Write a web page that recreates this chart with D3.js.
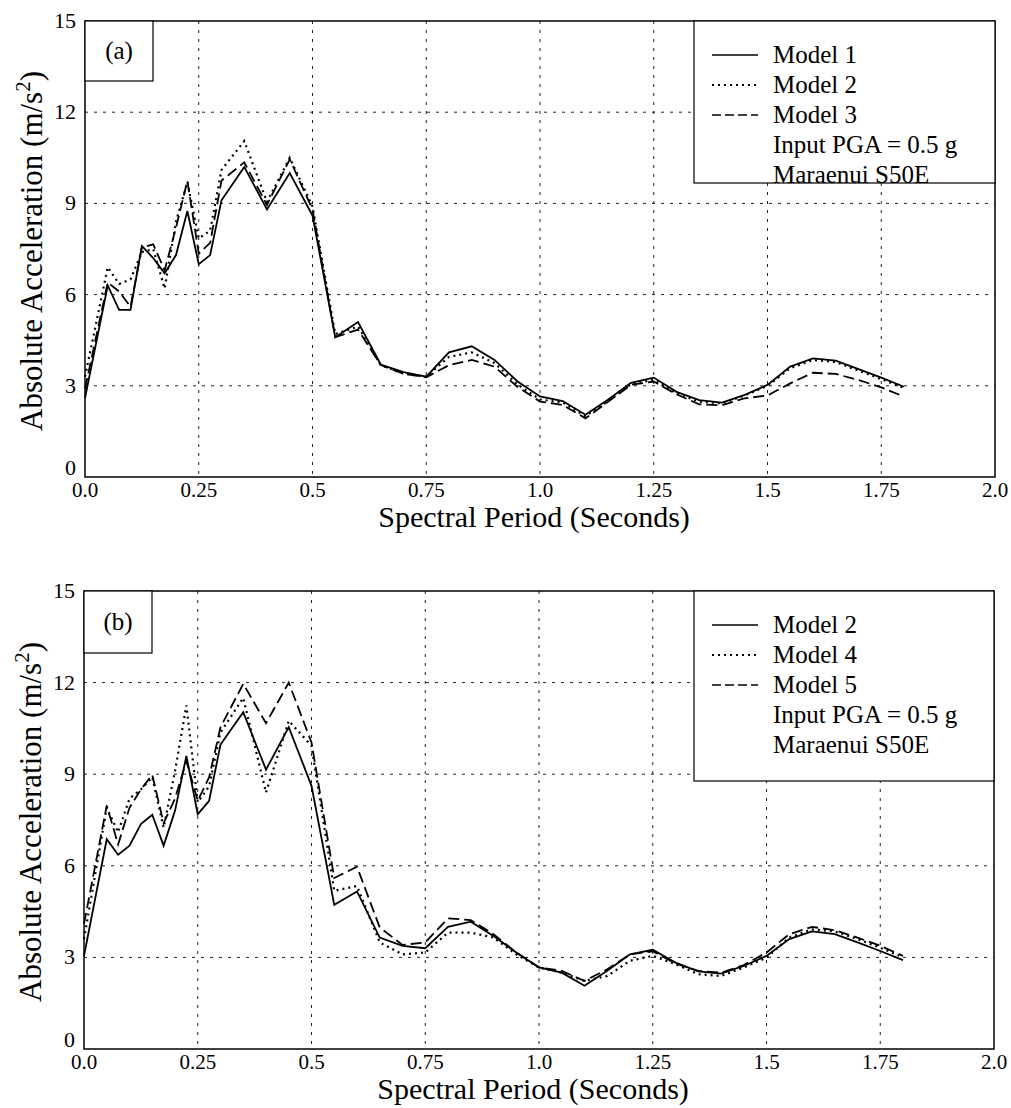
<!DOCTYPE html>
<html>
<head>
<meta charset="utf-8">
<script src="https://cdn.jsdelivr.net/npm/d3@7"></script>
<style>
  body { margin: 0; background: #fff; }
</style>
</head>
<body>
<div id="chart"></div>
<script>
// spectral periods (s)
var periods = [0, 0.05, 0.075, 0.1, 0.125, 0.15, 0.175, 0.2, 0.225, 0.25, 0.275, 0.3,
  0.35, 0.4, 0.45, 0.5, 0.55, 0.6, 0.65, 0.7, 0.75, 0.8, 0.85, 0.9, 0.95, 1.0,
  1.05, 1.1, 1.15, 1.2, 1.25, 1.3, 1.35, 1.4, 1.45, 1.5, 1.55, 1.6, 1.65, 1.7, 1.75, 1.8];

// panel (a)
var model1a = [2.6, 6.3, 5.5, 5.5, 7.6, 7.2, 6.7, 7.3, 8.75, 7.0, 7.3, 9.1,
  10.2, 8.8, 10.0, 8.6, 4.6, 5.1, 3.7, 3.45, 3.3, 4.1, 4.3, 3.85, 3.15, 2.65,
  2.5, 2.05, 2.55, 3.1, 3.27, 2.8, 2.53, 2.45, 2.7, 3.03, 3.63, 3.9, 3.83, 3.55, 3.27, 2.97];
var model2a = [3.3, 6.9, 6.35, 6.5, 7.4, 7.5, 6.2, 8.4, 9.7, 7.85, 8.1, 10.1,
  11.05, 9.05, 10.5, 8.9, 4.7, 4.95, 3.68, 3.4, 3.3, 3.95, 4.1, 3.75, 3.05, 2.55,
  2.45, 2.0, 2.5, 3.05, 3.2, 2.75, 2.48, 2.42, 2.68, 3.0, 3.58, 3.85, 3.78, 3.5, 3.22, 2.93];
var model3a = [2.9, 6.4, 6.1, 5.6, 7.55, 7.65, 6.8, 8.2, 9.75, 7.35, 7.7, 9.75,
  10.35, 8.95, 10.45, 8.8, 4.6, 4.85, 3.68, 3.4, 3.28, 3.68, 3.85, 3.63, 2.97, 2.48,
  2.37, 1.93, 2.48, 3.03, 3.14, 2.72, 2.39, 2.36, 2.59, 2.68, 3.08, 3.43, 3.39, 3.19, 2.95, 2.64];

// panel (b)
var model2b = [3.05, 6.87, 6.36, 6.66, 7.37, 7.67, 6.66, 7.8, 9.6, 7.69, 8.13, 9.97,
  11.03, 9.15, 10.54, 8.62, 4.72, 5.16, 3.65, 3.38, 3.3, 4.0, 4.17, 3.7, 3.16, 2.67,
  2.5, 2.07, 2.56, 3.1, 3.25, 2.83, 2.54, 2.47, 2.72, 3.05, 3.6, 3.85, 3.76, 3.49, 3.21, 2.91];
var model4b = [3.6, 7.9, 7.1, 8.2, 8.5, 8.9, 7.25, 9.1, 11.25, 8.08, 8.6, 10.37,
  11.5, 8.4, 10.75, 9.93, 5.18, 5.34, 3.49, 3.1, 3.16, 3.81, 3.81, 3.65, 3.1, 2.67,
  2.5, 2.23, 2.39, 2.89, 3.05, 2.78, 2.45, 2.39, 2.67, 2.99, 3.65, 3.92, 3.85, 3.6, 3.32, 3.0];
var model5b = [4.1, 7.97, 6.7, 7.9, 8.5, 8.98, 7.4, 8.2, 9.44, 8.13, 8.9, 10.54,
  11.96, 10.67, 12.0, 10.04, 5.6, 5.97, 3.98, 3.41, 3.49, 4.28, 4.22, 3.76, 3.16, 2.67,
  2.56, 2.23, 2.61, 3.1, 3.2, 2.8, 2.56, 2.5, 2.75, 3.16, 3.76, 4.0, 3.89, 3.65, 3.38, 3.05];

var xTicks = [0, 0.25, 0.5, 0.75, 1.0, 1.25, 1.5, 1.75, 2.0];
var xTickLabels = ["0.0", "0.25", "0.5", "0.75", "1.0", "1.25", "1.5", "1.75", "2.0"];
var yTicks = [0, 3, 6, 9, 12, 15];
var noteLines = ["Input PGA = 0.5 g", "Maraenui S50E"];

var styles = ["", "2,4", "11,5"];
var serif = "Liberation Serif, DejaVu Serif, serif";

var svg = d3.select("#chart").append("svg")
  .attr("width", 1011)
  .attr("height", 1108)
  .style("font-family", serif);

function drawPanel(p) {
  var x = d3.scaleLinear().domain([0, 2]).range([p.left, p.right]);
  var y = d3.scaleLinear().domain([0, 15]).range([p.bottom, p.top]);
  var g = svg.append("g");

  // grid
  g.selectAll(".vgrid")
    .data(xTicks.slice(1, -1))
    .enter().append("line")
    .attr("x1", function(d) { return x(d); })
    .attr("x2", function(d) { return x(d); })
    .attr("y1", p.top).attr("y2", p.bottom)
    .attr("stroke", "#222").attr("stroke-width", 1)
    .attr("stroke-dasharray", "3,6");
  g.selectAll(".hgrid")
    .data(yTicks.slice(1, -1))
    .enter().append("line")
    .attr("x1", p.left).attr("x2", p.right)
    .attr("y1", function(d) { return y(d); })
    .attr("y2", function(d) { return y(d); })
    .attr("stroke", "#222").attr("stroke-width", 1)
    .attr("stroke-dasharray", "3,6");

  // curves
  var line = d3.line()
    .x(function(d, i) { return x(periods[i]); })
    .y(function(d) { return y(d); });
  p.series.forEach(function(s, i) {
    g.append("path")
      .datum(s)
      .attr("d", line)
      .attr("fill", "none")
      .attr("stroke", "#000")
      .attr("stroke-width", i == 1 ? 2.2 : 1.8)
      .attr("stroke-dasharray", styles[i]);
  });

  // frame
  g.append("rect")
    .attr("x", p.left).attr("y", p.top)
    .attr("width", p.right - p.left).attr("height", p.bottom - p.top)
    .attr("fill", "none").attr("stroke", "#000").attr("stroke-width", 1.5);

  // tick labels
  g.selectAll(".xt")
    .data(xTicks)
    .enter().append("text")
    .attr("x", function(d) { return x(d); })
    .attr("y", p.bottom + 20)
    .attr("text-anchor", "middle")
    .attr("font-size", 21)
    .text(function(d, i) { return xTickLabels[i]; });
  g.selectAll(".yt")
    .data(yTicks)
    .enter().append("text")
    .attr("x", p.left - 9)
    .attr("y", function(d) { return y(d) + (d == 0 ? -2 : 7); })
    .attr("text-anchor", "end")
    .attr("font-size", 22)
    .text(function(d) { return d; });

  g.append("text")
    .attr("x", (p.left + p.right) / 2 - 6)
    .attr("y", p.bottom + 50)
    .attr("text-anchor", "middle")
    .attr("font-size", 30)
    .text("Spectral Period (Seconds)");

  var yt = g.append("text")
    .attr("transform", "translate(" + (p.left - 43) + "," + ((p.top + p.bottom) / 2 + 2) + ") rotate(-90)")
    .attr("text-anchor", "middle")
    .attr("font-size", 31);
  yt.append("tspan").text("Absolute Acceleration (m/s");
  yt.append("tspan").attr("dy", -12).attr("font-size", 21).text("2");
  yt.append("tspan").attr("dy", 12).text(")");

  // panel tag
  g.append("rect")
    .attr("x", p.left).attr("y", p.top)
    .attr("width", 68).attr("height", p.tagH)
    .attr("fill", "#fff").attr("stroke", "#000").attr("stroke-width", 1.2);
  g.append("text")
    .attr("x", p.left + 34).attr("y", p.top + p.tagH / 2 + 8)
    .attr("text-anchor", "middle")
    .attr("font-size", 25)
    .text(p.tag);

  // legend
  var lx = 694;
  g.append("rect")
    .attr("x", lx).attr("y", p.top)
    .attr("width", p.right - lx).attr("height", p.legH)
    .attr("fill", "#fff").attr("stroke", "#000").attr("stroke-width", 1.2);
  p.names.forEach(function(n, i) {
    var ly = p.top + 34 + i * 30;
    g.append("line")
      .attr("x1", lx + 18).attr("x2", lx + 64)
      .attr("y1", ly).attr("y2", ly)
      .attr("stroke", "#000").attr("stroke-width", i == 1 ? 2 : 1.6)
      .attr("stroke-dasharray", i == 1 ? "2,4" : (i == 2 ? "9,4" : ""));
    g.append("text")
      .attr("x", lx + 79).attr("y", ly + 8)
      .attr("font-size", 25)
      .text(n);
  });
  noteLines.forEach(function(t, i) {
    g.append("text")
      .attr("x", lx + 79).attr("y", p.top + 34 + (3 + i) * 30 + 8)
      .attr("font-size", 25)
      .text(t);
  });
}

drawPanel({
  left: 85, right: 995, top: 21, bottom: 477,
  series: [model1a, model2a, model3a],
  names: ["Model 1", "Model 2", "Model 3"],
  tag: "(a)", tagH: 60, legH: 162
});
drawPanel({
  left: 84, right: 994, top: 591, bottom: 1049,
  series: [model2b, model4b, model5b],
  names: ["Model 2", "Model 4", "Model 5"],
  tag: "(b)", tagH: 62, legH: 190
});
</script>
</body>
</html>
